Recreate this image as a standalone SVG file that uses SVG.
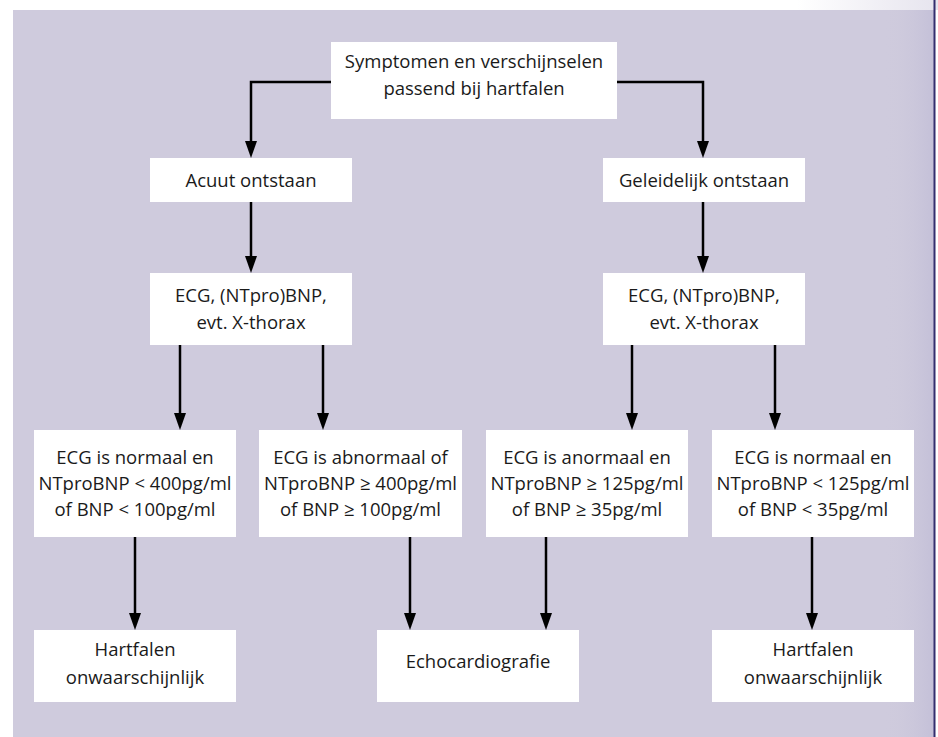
<svg xmlns="http://www.w3.org/2000/svg" width="938" height="737" viewBox="0 0 938 737">
<defs>
<linearGradient id="topfade" x1="0" y1="0" x2="1" y2="0">
<stop offset="0.85" stop-color="#ffffff"/>
<stop offset="1" stop-color="#e6e4ee"/>
</linearGradient>
<linearGradient id="rightfade" x1="0" y1="0" x2="1" y2="0">
<stop offset="0" stop-color="#cfcbdd" stop-opacity="0"/>
<stop offset="1" stop-color="#c4c0d8"/>
</linearGradient>
<marker id="ah" markerUnits="userSpaceOnUse" markerWidth="17" markerHeight="13" refX="7" refY="6.5" orient="auto">
<path d="M0,0.5 L17,6.5 L0,12.5 z" fill="#000"/>
</marker>
<style>
.box{fill:#ffffff;}
.t{font-family:"Open Sans","Noto Sans","DejaVu Sans",sans-serif;font-size:18.5px;fill:#1a1a1a;text-anchor:middle;}
.c{fill:none;stroke:#000;stroke-width:2.5;}
.a{marker-end:url(#ah);}
</style>
</defs>
<rect x="0" y="0" width="938" height="737" fill="#ffffff"/>
<rect x="0" y="0" width="938" height="10" fill="url(#topfade)"/>
<rect x="13" y="10" width="921" height="727" fill="#cfcbdd"/>
<rect x="884" y="10" width="50" height="727" fill="url(#rightfade)"/>
<rect x="933.5" y="0" width="2" height="737" fill="#332d6e"/>
<g id="connectors">
<polyline class="c a" points="331,82 251,82 251,148"/>
<polyline class="c a" points="617,82 703,82 703,148"/>
<line class="c a" x1="251" y1="202" x2="251" y2="263"/>
<line class="c a" x1="703" y1="202" x2="703" y2="263"/>
<line class="c a" x1="180" y1="345" x2="180" y2="420"/>
<line class="c a" x1="323" y1="345" x2="323" y2="420"/>
<line class="c a" x1="632" y1="345" x2="632" y2="420"/>
<line class="c a" x1="775" y1="345" x2="775" y2="420"/>
<line class="c a" x1="135" y1="537" x2="135" y2="620"/>
<line class="c a" x1="410" y1="537" x2="410" y2="620"/>
<line class="c a" x1="546" y1="537" x2="546" y2="620"/>
<line class="c a" x1="812" y1="537" x2="812" y2="620"/>
</g>
<g id="n-symptomen">
<rect class="box" x="331" y="42" width="286" height="77"/>
<text class="t" x="474" y="68">Symptomen en verschijnselen</text>
<text class="t" x="474" y="95">passend bij hartfalen</text>
</g>
<g id="n-acuut">
<rect class="box" x="150" y="158" width="202" height="44"/>
<text class="t" x="251" y="187">Acuut ontstaan</text>
</g>
<g id="n-geleidelijk">
<rect class="box" x="603" y="158" width="202" height="44"/>
<text class="t" x="704" y="187">Geleidelijk ontstaan</text>
</g>
<g id="n-ecg-left">
<rect class="box" x="150" y="273" width="202" height="72"/>
<text class="t" x="251" y="302">ECG, (NTpro)BNP,</text>
<text class="t" x="251" y="329">evt. X-thorax</text>
</g>
<g id="n-ecg-right">
<rect class="box" x="603" y="273" width="202" height="72"/>
<text class="t" x="704" y="302">ECG, (NTpro)BNP,</text>
<text class="t" x="704" y="329">evt. X-thorax</text>
</g>
<g id="n-acuut-normaal">
<rect class="box" x="34" y="430" width="202" height="107"/>
<text class="t" x="135" y="464">ECG is normaal en</text>
<text class="t" x="135" y="490">NTproBNP &lt; 400pg/ml</text>
<text class="t" x="135" y="516">of BNP &lt; 100pg/ml</text>
</g>
<g id="n-acuut-abnormaal">
<rect class="box" x="259" y="430" width="203" height="107"/>
<text class="t" x="360.5" y="464">ECG is abnormaal of</text>
<text class="t" x="360.5" y="490">NTproBNP ≥ 400pg/ml</text>
<text class="t" x="360.5" y="516">of BNP ≥ 100pg/ml</text>
</g>
<g id="n-geleidelijk-anormaal">
<rect class="box" x="486" y="430" width="202" height="107"/>
<text class="t" x="587" y="464">ECG is anormaal en</text>
<text class="t" x="587" y="490">NTproBNP ≥ 125pg/ml</text>
<text class="t" x="587" y="516">of BNP ≥ 35pg/ml</text>
</g>
<g id="n-geleidelijk-normaal">
<rect class="box" x="712" y="430" width="202" height="107"/>
<text class="t" x="813" y="464">ECG is normaal en</text>
<text class="t" x="813" y="490">NTproBNP &lt; 125pg/ml</text>
<text class="t" x="813" y="516">of BNP &lt; 35pg/ml</text>
</g>
<g id="n-hartfalen-left">
<rect class="box" x="34" y="630" width="202" height="72"/>
<text class="t" x="135" y="656">Hartfalen</text>
<text class="t" x="135" y="684">onwaarschijnlijk</text>
</g>
<g id="n-echo">
<rect class="box" x="377" y="630" width="202" height="72"/>
<text class="t" x="478" y="668">Echocardiografie</text>
</g>
<g id="n-hartfalen-right">
<rect class="box" x="712" y="630" width="202" height="72"/>
<text class="t" x="813" y="656">Hartfalen</text>
<text class="t" x="813" y="684">onwaarschijnlijk</text>
</g>
</svg>
